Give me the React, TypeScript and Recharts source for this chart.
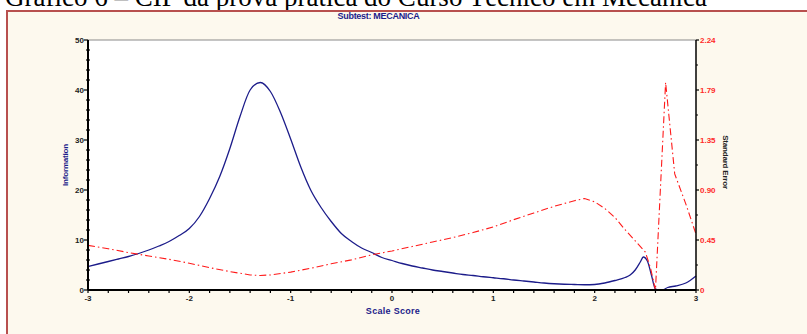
import React from 'react';
import { LineChart, Line, XAxis, YAxis, CartesianGrid, ReferenceLine } from 'recharts';

// Test information curve (left axis)
const infoScore = [-3, -2.9, -2.8, -2.7, -2.6, -2.5, -2.4, -2.3, -2.2, -2.1, -2, -1.9, -1.8, -1.7, -1.6, -1.5, -1.4, -1.3, -1.2, -1.1, -1, -0.9, -0.8, -0.7, -0.6, -0.5, -0.4, -0.3, -0.2, -0.1, 0, 0.1, 0.2, 0.3, 0.4, 0.5, 0.6, 0.7, 0.8, 0.9, 1, 1.1, 1.2, 1.3, 1.4, 1.5, 1.6, 1.7, 1.8, 1.9, 2, 2.1, 2.2, 2.3, 2.35, 2.4, 2.45, 2.48, 2.52, 2.56, 2.6, 2.65, 2.68, 2.72, 2.8, 2.9, 3];
const infoValues = [4.7, 5.2, 5.7, 6.2, 6.7, 7.3, 8.0, 8.8, 9.7, 10.9, 12.3, 14.7, 18.3, 22.7, 28.3, 34.7, 40.0, 41.5, 39.7, 35.5, 30.2, 24.6, 19.9, 16.5, 13.7, 11.3, 9.7, 8.4, 7.5, 6.5, 5.9, 5.3, 4.8, 4.4, 4.0, 3.7, 3.4, 3.1, 2.9, 2.65, 2.45, 2.25, 2.0, 1.8, 1.6, 1.4, 1.25, 1.15, 1.1, 1.05, 1.1, 1.4, 1.9, 2.5, 3.0, 4.0, 5.6, 6.6, 5.8, 3.0, 0.2, 0, 0.1, 0.5, 0.8, 1.4, 2.8];

// Standard error curve (right axis)
const seScore = [-3, -2.8, -2.6, -2.4, -2.2, -2, -1.8, -1.6, -1.4, -1.3, -1.2, -1, -0.8, -0.6, -0.4, -0.2, 0, 0.2, 0.4, 0.6, 0.8, 1, 1.2, 1.4, 1.6, 1.8, 1.9, 2, 2.1, 2.2, 2.3, 2.4, 2.5, 2.55, 2.6, 2.7, 2.79, 2.9, 3];
const seValues = [0.40, 0.37, 0.335, 0.305, 0.275, 0.24, 0.20, 0.165, 0.135, 0.13, 0.135, 0.16, 0.195, 0.235, 0.27, 0.315, 0.35, 0.39, 0.43, 0.47, 0.515, 0.565, 0.63, 0.69, 0.75, 0.80, 0.82, 0.79, 0.73, 0.65, 0.54, 0.44, 0.34, 0.2, 0, 1.86, 1.04, 0.77, 0.5];

const xLabels = ['-3', '-2', '-1', '0', '1', '2', '3'];
const leftLabels = ['0', '10', '20', '30', '40', '50'];
const rightTicks = [0, 0.448, 0.896, 1.344, 1.792, 2.24];
const rightLabels = ['0', '0.45', '0.90', '1.35', '1.79', '2.24'];

const infoData = infoScore.map((s, i) => ({ s, info: infoValues[i] }));
const seData = seScore.map((s, i) => ({ s, se: seValues[i] }));

const xTicks: number[] = [];
for (let i = 0; i <= 30; i++) xTicks.push(Math.round((-3 + i * 0.2) * 10) / 10);
const leftTicks: number[] = [];
for (let i = 0; i <= 25; i++) leftTicks.push(i * 2);
const rightAll: number[] = [];
rightTicks.forEach((t, i) => {
  rightAll.push(t);
  if (i < rightTicks.length - 1) rightAll.push((t + rightTicks[i + 1]) / 2);
});

const FONT = '"Liberation Sans", Arial, sans-serif';
const NAVY = '#1c1c8a';

const XTick = (props: any) => {
  const { x, y, payload } = props;
  const v = payload.value;
  const major = Math.abs(v - Math.round(v)) < 1e-6;
  return (
    <g>
      <line x1={x} y1={y} x2={x} y2={y + 3} stroke="#000" strokeWidth={1.2} />
      {major && (
        <text x={x} y={y + 11} textAnchor="middle" fontSize={8} fontWeight="bold" fill="#222" fontFamily={FONT}>
          {xLabels[Math.round(v) + 3]}
        </text>
      )}
    </g>
  );
};

const LeftTick = (props: any) => {
  const { x, y, payload } = props;
  const v = payload.value;
  const major = v % 10 === 0;
  return (
    <g>
      <line x1={major ? x - 4 : x - 2} y1={y} x2={major ? x : x + 2} y2={y} stroke="#000" strokeWidth={1.2} />
      {major && (
        <text x={x - 4} y={y + 3} textAnchor="end" fontSize={8} fontWeight="bold" fill="#222" fontFamily={FONT}>
          {leftLabels[v / 10]}
        </text>
      )}
    </g>
  );
};

const RightTick = (props: any) => {
  const { x, y, payload } = props;
  const idx = rightTicks.findIndex((t) => Math.abs(t - payload.value) < 1e-6);
  return (
    <g>
      <line x1={x} y1={y} x2={x + (idx >= 0 ? 3 : 2)} y2={y} stroke="#000" strokeWidth={1.2} />
      {idx >= 0 && (
        <text x={x + 4} y={y + 3} textAnchor="start" fontSize={8} fontWeight="bold" fill="#ff2a2a" fontFamily={FONT}>
          {rightLabels[idx]}
        </text>
      )}
    </g>
  );
};

export default function App() {
  return (
    <div style={{ position: 'absolute', left: 0, top: 0, width: 807, height: 334, overflow: 'hidden', background: '#fff' }}>
      <div
        style={{
          position: 'absolute', left: 5, top: -18, fontFamily: '"Liberation Serif", "Times New Roman", serif',
          fontSize: 27, whiteSpace: 'nowrap', color: '#000', lineHeight: '30px',
        }}
      >
        Gráfico 6 – CIF da prova prática do Curso Técnico em Mecânica
      </div>
      <div
        style={{
          position: 'absolute', left: 6, top: 10, width: 820, height: 340, background: '#fdf9ee',
          borderLeft: '2px solid #b8504e', borderTop: '2px solid #b8504e',
        }}
      />
      <div style={{ position: 'absolute', left: 0, top: 0 }}>
        <LineChart width={807} height={334} margin={{ top: 40, right: 0, bottom: 0, left: 0 }}>
          <CartesianGrid horizontal={false} vertical={false} fill="#ffffff" yAxisId="left" />
          <XAxis
            dataKey="s" type="number" domain={[-3, 3]} ticks={xTicks} interval={0} height={44}
            tickSize={0} tickMargin={0} tick={<XTick />} axisLine={{ stroke: '#000', strokeWidth: 2 }} tickLine={false}
            allowDuplicatedCategory={false}
          />
          <YAxis
            yAxisId="left" orientation="left" width={88} domain={[0, 50]} ticks={leftTicks} interval={0}
            tickSize={0} tickMargin={0} tick={<LeftTick />} axisLine={{ stroke: '#000', strokeWidth: 2 }} tickLine={false}
          />
          <YAxis
            yAxisId="right" orientation="right" width={111} domain={[0, 2.24]} ticks={rightAll} interval={0}
            tickSize={0} tickMargin={0} tick={<RightTick />} axisLine={{ stroke: '#000', strokeWidth: 1.5 }} tickLine={false}
          />
          <ReferenceLine yAxisId="left" y={50} stroke="#8a8a8a" strokeWidth={1} />
          <Line
            yAxisId="left" data={infoData} dataKey="info" type="monotone" stroke={NAVY} strokeWidth={1.3}
            dot={false} activeDot={false} isAnimationActive={false}
          />
          <Line
            yAxisId="right" data={seData} dataKey="se" type="linear" stroke="#ff1a1a" strokeWidth={1.1}
            strokeDasharray="7 3 1.5 3" dot={false} activeDot={false} isAnimationActive={false}
          />
        </LineChart>
      </div>
      <div
        style={{
          position: 'absolute', left: 0, width: 757, top: 11, textAlign: 'center', fontFamily: FONT,
          fontSize: 9, fontWeight: 'bold', color: NAVY, letterSpacing: -0.3,
        }}
      >
        Subtest: MECANICA
      </div>
      <div
        style={{
          position: 'absolute', left: 65, top: 165, transform: 'translate(-50%, -50%) rotate(-90deg)',
          fontFamily: FONT, fontSize: 8, fontWeight: 'bold', color: NAVY, whiteSpace: 'nowrap', letterSpacing: -0.2,
        }}
      >
        Information
      </div>
      <div
        style={{
          position: 'absolute', left: 725, top: 162, transform: 'translate(-50%, -50%) rotate(90deg)',
          fontFamily: FONT, fontSize: 8, fontWeight: 'bold', color: '#222', whiteSpace: 'nowrap', letterSpacing: -0.2,
        }}
      >
        Standard Error
      </div>
      <div
        style={{
          position: 'absolute', left: 393, top: 311, transform: 'translate(-50%, -50%)',
          fontFamily: FONT, fontSize: 9, fontWeight: 'bold', color: NAVY, whiteSpace: 'nowrap', letterSpacing: 0.3,
        }}
      >
        Scale Score
      </div>
    </div>
  );
}
